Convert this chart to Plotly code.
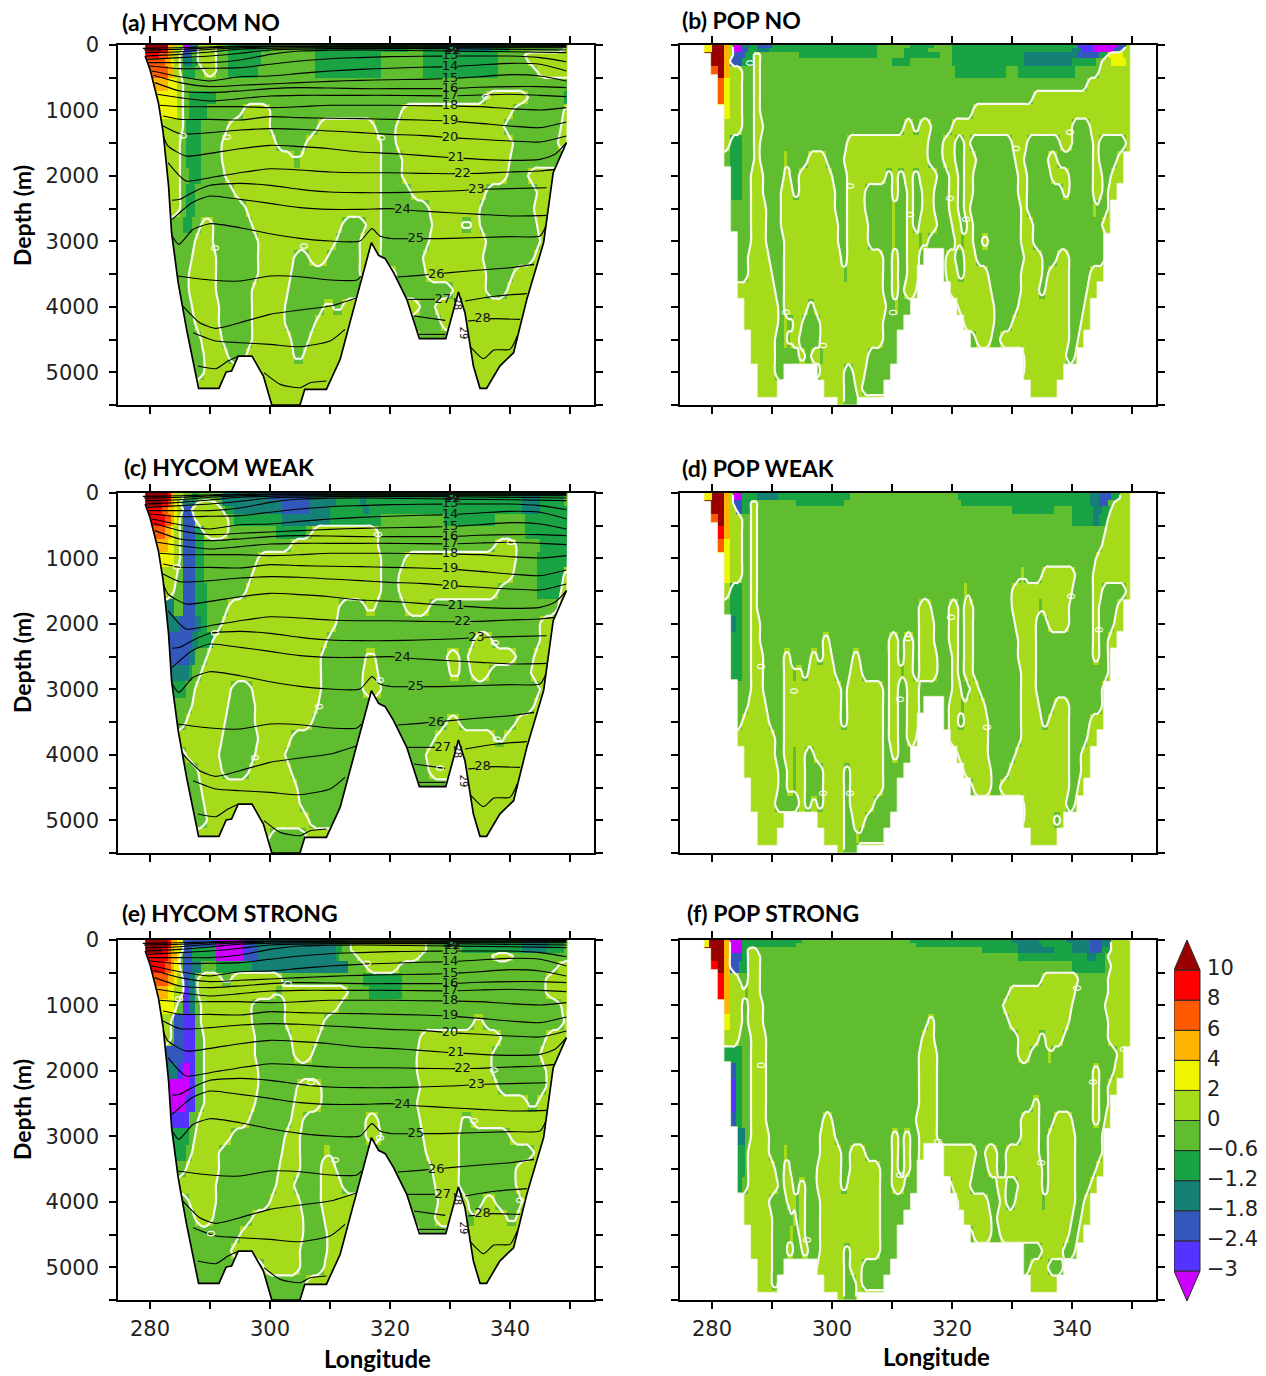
import numpy as np
import plotly.graph_objects as go

# ---------- colour classes (letter -> colour, contour-level bounds) ----------
CLASS_KEYS = list("abcdefghijkl")
CLASS_COLORS = ["#cc00ff", "#5533ff", "#3358bb", "#158075", "#1aa344", "#60bd30",
                "#a6db1c", "#eef500", "#ffb400", "#ff5a00", "#ff0000", "#990000"]
CBAR_LABELS = ["\u22123", "\u22122.4", "\u22121.8", "\u22121.2", "\u22120.6", "0", "2", "4", "6", "8", "10"]

# ---------- grid ----------
DEPTHS = [25, 75, 150, 250, 400, 600, 800, 1000, 1250, 1500, 1750, 2000, 2250, 2500, 2750,
          3000, 3250, 3500, 3750, 4000, 4250, 4500, 4750, 5000, 5250, 5450]
X_TICKS = [280, 290, 300, 310, 320, 330, 340, 350]
Y_TICKS = [0, 500, 1000, 1500, 2000, 2500, 3000, 3500, 4000, 4500, 5000, 5500]

# Each row = one depth level: runs of "<class><start longitude>"
HYCOM_NO = [
 "l278 i283 g284 a285.3 c286.5 d287 g288 f291 e293 f300 e307.5 f323 e325.3 d331 e337 f340 g349",
 "l278 k282 i283 g284 b285.3 c286.5 d287.3 g288 f291 e293 f300 e307.5 f323 e325.3 d331 e337 f340 g349",
 "k279.5 j281.5 i283 g284 f285.2 c285.4 d286.5 f287.2 g288 f291.2 e293 f298.5 e307.5 f318.6 e325.3 f338 g342.7",
 "j280 i282.5 h283.5 g284 f285.2 d285.5 e287 g288 f291 e293 f298.5 e307.5 f318.6 e325.3 f338 g343",
 "j280.5 i282.8 g284 f285 e285.5 f287.5 g289 f291 e293 f297.8 e307.5 f318.6 e325.3 f338 g344.5",
 "i281.5 h283 g284.5 f285.6",
 "h282 g284.5 f285.6 e286.5 f291 g336 f343 e349",
 "h282.5 g284.5 f285.6 e286.5 f289.7 g295.3 f300 g322 f340.3 g349",
 "g282 f285.6 e286 f288.5 g293 f300 g307.8 f317.7 g320.8 f338.9 g348.7",
 "g282.5 f285.2 e286 f288.5 g292.2 f301 g306 f318.6 g321 f340.3 g348.2",
 "g282.8 f285.2 e286 f288.5 g292.2 f304 g305 f318.6 g322 f340",
 "g283 f285.2 e286.5 f288.5 g292.5 f318.6 g322 f339.5 g343",
 "g283.5 f285 e286.2 f287.5 g294.2 f318.6 g323.3 f336 g344.5",
 "g284 f284.8 e286.2 f287.5 g295.8 f318.6 g326.6 f335 g344.2",
 "f283.5 e285.5 f287 g288.3 f290.5 g297.2 f312 g315.9 f318.6 g327 f332.2 g333.5 f335 g344.5",
 "f283.7 g287.5 f290.7 g297.8 f310.8 g315 f318.6 g326.5 f336 g345",
 "f284 g287.2 f290.8 g297.8 f304.2 g306.5 f309.4 g315 f318.6 g325.6 f335.6 g344",
 "f284.5 g286.5 f291 g297.8 f303.6 g315 f321 g325.8 f335.9 g340.5",
 "f285 g286.7 f291 g297.2 f303 g330.5 f335.8 g339.5",
 "f285.5 g287 f291.3 g297 f302.5 g309 f310.5 g312 f325 g327.5",
 "f286 g287.5 f291.3 g297 f302.5 g307.5 f320 g328.5",
 "f287 g288.5 f292 g296.8 f303.3 g306.7 f325 g333",
 "f288 g289 f293 g296 f304 g305.5",
 "f288 g289",
 "g288",
 "g288",
]
HYCOM_WEAK = [
 "l279 k282.8 i283.5 g284 f285.3 e287 f288 d292 c300 d306.4 e311 d315 e316 d342.2 e345 f349",
 "l279 k282.8 i283.5 g284 f285.3 e287 f288 d292 c300 d306.4 e311 d315 e316 d342.2 e345 f349",
 "l279.5 k282 j283 i283.5 h284 g284.3 f285.2 d285.6 f287.5 g287.8 f291 d292 c301.8 d306.4 e311 d315 e316 d342.2 e345 f349",
 "k280 j282 i283 h284 g284.6 f285.4 c285.6 e287 g287 f292 e292.5 d294 c302 d306.4 e310 d315.5 e316.5 d342 e345",
 "k281 j282.5 i283.3 h284 g284.6 f285.2 c285.6 f287.3 g287.7 f292.8 e294 d302 e310 f318.6 e329 f337.5 e342.5",
 "j281 i282.5 h283.5 g284 f285 c285.4 e287.3 g289 f292.8 e301 f306 g307.2 f317.8 e342.5",
 "i282 h283 g284 f284.8 c285.4 e287.3 f288.8 g303.3 f318 g337.5 f340.8 e345",
 "h282 g284 f284.8 c285.4 e287.3 f288.8 g298 f318.6 g322.5 f340.8 e344.5",
 "g282 f284.5 c285.4 e287.3 f288.8 g297 f318.6 g321.4 f340.3 e344.5 g349",
 "g282 f283.8 c285.4 e287.5 f289.7 g296 f318.6 g321.4 f338.2 e344.5 g348.5",
 "d283 f284 c285.5 e287.5 f289.7 g293 f311.5 g316 f317.5 g322.3 f326.7 g348",
 "d283 c285 d287.3 e288.3 f289.7 g292 f310.8 g345",
 "c283.5 d287 e288 g290.3 f309.6 g333.9 f337.2 g345",
 "c283.7 d286.5 f287.5 g289.4 f308.3 g316.2 f317.6 g329.5 f331.5 g332.8 f340.8 g343.8",
 "d283.7 e286.3 f287.2 g288.4 f308.3 g315.5 f318.2 g329.8 f331.5 g333.5 f336.5 g343.7",
 "e284.5 f286 g287.5 f293.7 g297 f308.3 g315.3 f318.6 g345",
 "f284.5 g286.8 f293 g297.5 f308 g344",
 "f285 g286 f292.5 g297.5 f307 g329.5 f331.7 g340.8",
 "g285.5 f292 g297.8 f303.5 g327.5 f337.5 g339",
 "f285 g286 f291.7 g297.7 f302.5 g326",
 "f286 g288 f292 g296.7 f303.3 g326.7",
 "f287 g288.3 f304.5 g333",
 "f288 g288.9 f305 g333",
 "f288 g289.5 f306.5 g333",
 "g288 f300 g306",
 "f288",
]
HYCOM_STRONG = [
 "h278.7 l279 k282.8 i283.5 h284.5 c285.3 a290.9 b295.3 c296 d297.5 e311 f312 g313.5 f326 e329 d342.2 e346.5 f349",
 "l279 k282.8 i283.5 h284.5 c285.3 a290.9 b295.3 c296 d297.5 e311 f312 g313.5 f326 e329 d342.2 e346.5 f349",
 "l279.5 k282 j282.8 i283.5 h284.2 g285 c285.5 e287 a291 b295.3 c296.3 d297.8 e311 f312 g313.7 f326 e332 d342.2 e346 f349",
 "k281 j282.8 i283.6 h284.3 f285 c285.5 e287 a291 c295.3 d297.8 e311 f311.7 g314.5 f325 g337 f340.5",
 "k281 j282.5 i283.3 h284 g284.8 f285.2 c285.5 d287 f288.3 e291 d297 f313 g316 f321.7 g348",
 "j281.5 i283 h284 g284.5 c285.4 d286.5 f287.5 g288 f292 g293.5 f302 e315.5 f322 g346",
 "i282 h283 g284 b285.3 d286.5 f287.5 g288.2 f301 g302 f313 e316.5 f322 g346",
 "h282.5 g284 f284.5 b285.3 d286.5 f287.5 g288.3 f297 g302.3 f311.5 g348.5",
 "g282 f283.5 c284.2 b285.3 f287.5 g288.5 f297 g302.5 f309 g334 f335.6 g349",
 "g282.5 f283.5 c284.2 b285.3 f287.5 g288.8 f297.3 g303.5 f307.8 g325 f338.3 g346",
 "c283 b285.3 f287.5 g289 f297.5 g304 f307 g324.5 f337 g345",
 "d283.5 b284.3 a285.3 b286.5 f287.5 g289 f297.8 g324.5 f337 g346",
 "a283.5 b286.3 f287.5 g288.8 f298 g304.5 f308.5 g325 f337.8 g346",
 "a283.7 b286 f287.5 g289 f297.5 g304 f308.3 g324.5 f343 g344.5",
 "b284 f286.5 g288 f296.4 g303.3 f305.3 g316.2 f317.8 g324.8 f332 g333.3",
 "e284 f286.3 g287.5 f293.3 g302.5 f305 g316 f318.6 g325.5 f331.5 g340",
 "e284.5 f286 g287 f291.7 g302.2 f304.8 g308.8 f310 g326.2 f331.5 g344",
 "f285 g286 f291.4 g301.7 f304.8 g308.6 f310.8 g327 f331.5 g341.1",
 "g285.5 f291 g301.2 f304.2 g308.6 f312 g327.3 f331.5 g341",
 "f285 g286.5 f291 g300 f304.8 g308.3 f323 g327.8 f333 g335.5 f337.5 g341.8",
 "f286 g287.5 f290.5 g297 f305.5 g309 f324 g327.5 f333 g334 f339.5 g341",
 "f287 g295 f305.3 g309.5 f325 g333",
 "f288 g293.5 f305 g309.5",
 "f288 g299 f305 g309",
 "f288 g306",
 "f288",
]
POP_NO = [
 "h278.7 l279.8 i281.9 g283 a283.3 d285.2 e286.5 c287.5 e290 f307.5 e313 f317 e320 b341.1 a343.3 c347.4 g349",
 "h278.7 l279.8 i281.9 g283 a283.3 c285 e285.8 d287.5 e289.5 f307.5 e312 f316 e320 d340 b341.5 a343.5 c347 g348.5",
 "l279.8 i281.9 g283 c283.3 e285.5 g287 f288 e294.5 f307.5 e312 f318 e320 d332 c341 e344.5 h346 g348.3",
 "l279.8 i281.9 c283 e285.2 g286.8 f288 e310 f313 e320 d332 e340 f344 g345 h346.7 g348.8",
 "j279.8 l280.8 i281.9 g283 f285 g287 f288 e320.5 f329 e331 f340.5 g344.6",
 "j279.8 h281.9 g283 f285 g287 f288 g342.7",
 "j279.8 h281.9 g283 f285 g287.2 f288 g333.6",
 "h281.9 g283 f285.2 g287.2 f288.2 g323.5",
 "g282 f285 g287.2 f288.6 g311.9 f313.3 g314.4 f316.5 g319.8 f339.9 g343",
 "g281.9 e283.2 f285.2 g287.2 f288 g302.5 f316 g318.5 f320.5 g321.8 f323 g330 f332.3 g338 f340 g343.3 f344.4 g349",
 "f281.9 e283.2 f285.2 g286.8 f288 g292 f292.5 g296 f299 g302 f316 g318.3 f320.5 g322 f324 g330.3 f332 g336 f337.6 g343.3 f344.5 g347.5",
 "f282 e283 f285.2 g286.3 f288.3 g291.9 f293.1 g294.4 f300.2 g302.7 f308.8 g310.2 f310.8 g312.2 f313.3 g314.6 f317.4 g319.4 f320.9 g322.2 f323.3 g330.8 f332.3 g336.3 f339.4 g343.3 f345 g346.6",
 "e283 f285.2 g286.3 f288.6 g291.6 f293.3 g294.4 f300.5 g302.7 f305.5 g310 f310.9 g312.5 f313.3 g314.9 f317.2 g319.5 f320.8 g322.2 f323.3 g331 f332.4 g338.3 f339.4 g343.3 f345.2 g346",
 "f283 g286.3 f288.8 g291.6 f300.5 g302.7 f305.5 g310 f310.5 g312.5 f313.3 g314.9 f317.2 g319.5 f320.9 g322.2 f323 g331.3 f332.7 g343.3 f344.2 g346.2",
 "f284 g286.3 f289 g291.7 f301 g302.7 f305.8 g310 f310.7 g312.4 f313.5 g314.4 f317.5 g320 f321.6 g322.4 f323.3 g331.6 f333.3 g345",
 "f285 g286.3 f289.2 g291.8 f301.2 g302.7 f305.8 g310 f310.7 g312.4 f314.4 g315 f316 g320.5 f321.3 g322 f323.6 g325 f326 g331.6 f333.3 g345.8",
 "f285 g286.2 f289.6 g291.8 f301.5 g302.3 f308.3 g310 f310.8 g312.6 f314.4 g319 f320.7 g321.8 f324 g332.2 f334.8 g337.5 f339.4 g345.5",
 "f285 g286.2 f290 g291.9 f302 g302.5 f308.5 g310 f310.8 g312.5 f314.4 g319 f320.8 g321.8 f326.2 g331.7 f334.8 g335.9 f339.4 g343",
 "g284.4 f290.6 g292 f308.6 g310 f310.8 g312.1 f314 g319.5 f326.5 g331.5 f334.7 g335.4 f339.4 g342.5",
 "g285 f290.8 g292 f295.8 g296.8 f308.8 g310.3 f311 g321 f326.9 g330.8 f339.4 g342",
 "g286 f291 g292 f292.7 g293.5 f295 g298 f308.5 g322 f326.9 g330 f339.5 g341.5",
 "g287 f290.7 g292 f292.6 g293.2 f294.4 g298 f308.6 g324 f326.6 g328 f339.5 g341",
 "g287 f290.5 g294.5 f295.5 g296.5 f297.8 g298.5 f306 g332 f338.8 g340.5",
 "g288 f290.5 g298 f302.2 g303.5 f305.5 g332",
 "g288 f302.2 g303.9 f305.2 g330",
 "g300 f302 g304.5",
]
POP_WEAK = [
 "h278.7 l279.8 i281.9 g283 a283.3 e285.2 d287.5 e291 f303 e320.8 d343 c344.4 e346.7 g348",
 "h278.7 l279.8 i281.9 g283 a283.3 e285.2 d287.5 e291 f303 e320.8 d343 c344.4 e346.7 g348",
 "l279.8 i281.9 g283 c283.5 e285.2 g286.3 f287.6 e294 f302 e321.5 d343 c344.4 f346 g346.8",
 "l279.8 i281.9 g283 f283.8 c284 e285.2 g286.3 f287.6 e330 f337 e340 d343.5 e345 g346.4",
 "j279.8 l281 i281.9 g283 f284.8 g286.3 f287.6 e340 d343.7 e344.5 g345.8",
 "j279.8 k281 i281.9 g283 f285 g286.3 f287.6 g345.6",
 "j279.8 h281.9 g283 f285.2 g286.3 f287.6 g345",
 "h281.9 g283 f285.2 g286.3 f287.6 g344",
 "h281.9 g283 f285 g286.3 f287.5 g331.4 f331.8 g334.8 f340.3 g343.6",
 "g281.9 e283 f285.2 g286.3 f287.6 g321.8 f322.5 g330 f340.2 g343.5 f345 g349",
 "f281.9 e283 f285.2 g286.3 f287.7 g314.7 f316.3 g319.7 f320.8 g322.2 f323.4 g329.9 f334.3 g335 f339.4 g343.4 f344.4 g347.6",
 "d283 e284 f285.2 g286.3 f288 g314.7 f316.8 g319.7 f320.8 g322.2 f323.4 g330.5 f333.8 g335.9 f339.4 g343.4 f344.7 g346.9",
 "e283 f285.2 g286.3 f288 g298.6 f299.7 g309.7 f310.8 g312.2 f313.3 g314.4 f316.9 g319.7 f320.8 g322.2 f323.3 g330.8 f334 g343.3 f344.4 g346",
 "e283 f285.2 g286.3 f288.3 g292.2 f293.1 g296.6 f297.7 g298.6 f300.2 g303.3 f304.4 g309.7 f310.8 g311.9 f313.3 g314.4 f317.7 g319.9 f320.8 g322.2 f323.3 g330.8 f333.8 g343.3 f344.4 g345.8",
 "e283.3 f285.2 g286.3 f288.3 g292.2 f293.6 g294.2 f295.2 g296.2 f300.7 g302.9 f304.9 g309.7 f311.6 g312.2 f313.7 g314.4 f317.4 g320 f320.9 g322.2 f323.5 g331.5 f334 g345.9",
 "f284 g286.3 f288.5 g292.1 f301.3 g302.7 f308.3 g309.7 f311.2 g312.5 f314.3 g320 f321.3 g322.9 f324.6 g331.5 f334 g345",
 "f284 g285.8 f288.8 g292.1 f301.6 g302.4 f308.3 g309.7 f311.2 g312.5 f314.3 g319.7 f321.3 g322.2 f325.5 g331.5 f334.4 g337 f339.6 g345",
 "f284 g285 f289.7 g292.1 f301.6 g302.7 f308.3 g309.7 f311.2 g312.5 f314.3 g319.3 f321 g322 f325.8 g331.6 f334.8 g336 f339.6 g343",
 "g284 f290.5 g292.1 f308.3 g309.7 f311 g312.6 f314 g319.5 f326 g331.5 f339.6 g342.4",
 "g284.8 f290.5 g292 f293.3 g294 f295.6 g296.8 f308.3 g310 f310.8 g321 f326.1 g330.5 f339.6 g341.6",
 "g286 f290.8 g292.4 f293.3 g294 f295.4 g298.3 f302 g303 f308.3 g322 f326.4 g329.5 f339.5 g341.4",
 "g287 f290.8 g292.4 f293.4 g294 f295.4 g298.3 f302 g303 f308.3 g323.5 f326.6 g327.9 f339.6 g341",
 "g287 f290.5 g294.4 f295.4 g296.6 f297.7 g298.6 f302 g303 f306.9 g332 f338.8 g340.4",
 "g288 f302 g303.5 f305.5 g332 f336.8 g338",
 "g288 f302 g304 f304.6 g330",
 "g300 f302.2 g304.5",
]
POP_STRONG = [
 "h278.7 l279.7 i281.9 g283 a283.2 e285 f295.2 e313 d330 e334.5 d339 c343 d345.2 g346.5",
 "h278.7 l279.7 i281.9 g283 a283.2 e285 f294 e314 d331 e335 d340 c343 d345 g346.5",
 "l279.7 i281.9 g283 a283.2 e285 g286 f287.7 e325 d331 e337 d340 c343 e345 g346.3",
 "l279.7 i281.9 c283 e285 g286 f287.9 e331 d342.5 e344 f345.5 g346.2",
 "k280.2 l281 i281.9 c283 e284.5 g286 f287.9 e340 f345.5 g346.4",
 "k280.9 i281.9 g283 f284.6 g286 f288 g334.9 f340.8 g346",
 "k280.9 i281.9 g283 f285.3 g286 f288.1 g329.6 f340.6 g346",
 "i281.9 g283 f285.2 g286 f288.3 g328.6 f340.2 g345.7",
 "h281.9 g283 f285 g286.2 f288.5 g315.8 f316.8 g329.7 f339.5 g346",
 "g281.9 f284.4 g286.3 f288.8 g314.9 f317.1 g331.1 f334.3 g335.5 f338.4 g346.1",
 "e281.9 f285 g286.4 f289 g314.7 f317.4 g331.1 f333 g335.8 f336.5 g347.7",
 "c283 e284 f285 g286.4 f289 g314.6 f317.4 g343.5 f344.4 g347.2",
 "b283 e284.2 f285 g286.4 f289 g314.5 f317.5 g343.5 f344.5 g346",
 "b283 e284.2 f285 g286.4 f289 g314.3 f317.5 g333.6 f334.3 g343.4 f344.5 g345.8",
 "c283.3 e284 f285 g286.4 f289 g298.4 f300 g314.2 f317.5 g331.4 f334.3 g336.8 f340 g343.4 f344.5 g345.6",
 "d284.5 f285.5 g286.3 f289.5 g298 f300.5 g309.8 f311.1 g311.9 f313.1 g314.3 f317.3 g331.4 f334.7 g335.8 f340.3 g345",
 "e284.7 f285.5 g286.2 f289.7 g292 f292.7 g298 f301.3 g302.8 f305.4 g309.8 f311.1 g311.9 f313.1 g314.3 f324 g325.7 f327.7 g328.9 f331.4 g331.41 f334.7 g335.8 f340.4 g344.8",
 "e284.7 f285.3 g286 f290.5 g292 f293 g297.5 f301.3 g302.8 f308.2 g309.8 f311.1 g312 f313 g314.5 f323.5 g326 f327.7 g329 f331.3 g331.31 f334.8 g335.8 f340.5 g343.8",
 "e284.3 f285 g286 f290.8 g292.1 f293.6 g294.3 f295.5 g297.4 f301.5 g302.7 f308.2 g310 f311.9 g320 f322.8 g327.6 f328.9 g331 f334.9 g335.8 f340.5 g342.8",
 "g284.8 f289.5 g292.7 f294 g294.3 f295.5 g298 f308.2 g320.9 f326 g327.9 f329.2 g330.4 f334.9 g335.5 f340.4 g341.9",
 "g285 f290 g293.4 f293.9 g294.3 f295.6 g298 f308.2 g321 f326.3 g327.7 f340 g341.3",
 "g286 f290.2 g293.2 f293.7 g294.3 f295.7 g297.8 f308.2 g323.3 f326.4 g327.8 f339.6 g341",
 "g287 f290 g292.7 f293.7 g294.9 f296 g298.2 f302.2 g302.8 f308.2 g335 f338.6 g340.7",
 "g288 f290 g297.5 f302 g303 f305 g333 f336 g338.5",
 "g288 f289.8 g291 f302 g303.8 f305 g330",
 "g300 f302.2 g304.2",
]

# ---------- HYCOM bathymetry (longitude / depth along the bottom) ----------
HYCOM_BOTTOM_LON = [279.2, 280, 281.4, 282.2, 283.1, 283.6, 284.7, 286.1, 288.1, 291.5, 292.7, 293.6,
                    294.7, 297, 298.9, 300.3, 305, 305.8, 309.4, 311.7, 313.1, 314.7, 316.1, 316.9,
                    318.1, 319.2, 320.6, 322.8, 324.9, 329.3, 331.4, 332.5, 333.9, 335, 336.1, 338.3,
                    340.6, 342.8, 345.6, 347.2, 349.4]
HYCOM_BOTTOM_DEPTH = [168, 372, 881, 1339, 2154, 2868, 3632, 4345, 5245, 5245, 4996, 4982, 4753, 4753,
                      5059, 5500, 5500, 5260, 5260, 4802, 4318, 3784, 3320, 3020, 3213, 3264, 3478,
                      3886, 4487, 4487, 3774, 4090, 4905, 5245, 5245, 4905, 4701, 3886, 3020, 1951, 1492]

# ---------- POP bathymetry: depth of each 1.11-degree column ----------
POP_COLUMN_START = 278.67
POP_COLUMN_WIDTH = 1.11
POP_BOTTOM = [127, 453, 917, 1859, 2852, 3871, 4354, 4874, 5383, 5383, 5383, 5118, 4874, 4874, 4874, 4874,
              4874, 5118, 5383, 5383, 5500, 5500, 5500, 5383, 5383, 5383, 5383, 5118, 4874, 4354, 4125,
              3871, 3361, 3107, 3107, 3107, 3616, 3871, 4125, 4354, 4624, 4624, 4624, 4624, 4624, 4624,
              4624, 4624, 5118, 5383, 5383, 5383, 5383, 5118, 4874, 4874, 4624, 4354, 3871, 3616, 2877,
              2368, 2113, 1630]

# ---------- isotherms shared by the HYCOM panels (None = break) ----------
ISO_LON = {
 7:  [278.8, 285, 295, 349.4],
 8:  [279, 285, 295, 349.4],
 9:  [279.2, 285, 290, 300, 349.4],
 10: [279.4, 285, 290, 295, 305, 349.4],
 11: [279.6, 285, 290, 295, 300, 310, 330, 349.4],
 12: [279.8, 285, 290, 295, 300, 305, 310, 315, 330, 340, 349.4],
 13: [280, 285, 290, 295, 300, 305, 310, 315, 320, 325, 330, 335, 340, 345, 349.4],
 14: [280.3, 285, 290, 295, 300, 305, 310, 315, 320, 325, 330, 335, 340, 345, 349.4],
 15: [280.6, 285, 290, 295, 300, 305, 310, 315, 320, 325, 330, 335, 340, 345, 349.4],
 16: [280.8, 285, 290, 295, 300, 305, 310, 315, 320, 325, 330, 335, 340, 345, 349.4],
 17: [281.2, 285, 290, 295, 300, 305, 310, 315, 320, 325, 330, 335, 340, 345, 349.4],
 18: [281.6, 285, 290, 295, 300, 305, 310, 315, 320, 325, 330, 335, 340, 345, 349.4],
 19: [282.2, 285, 290, 295, 300, 305, 310, 315, 320, 325, 330, 335, 340, 345, 349.4],
 20: [282.2, 285, 290, 295, 300, 305, 310, 315, 320, 325, 330, 335, 340, 345, 349.4],
 21: [282.2, 283, 286, 290, 295, 300, 305, 310, 315, 320, 325, 330, 335, 340, 345, 347.5, 349.4],
 22: [283, 286, 290, 295, 300, 305, 310, 315, 320, 325, 330, 335, 340, 345, 347.5],
 23: [283.7, 285, 287, 290, 295, 300, 305, 310, 315, 320, 325, 330, 335, 340, 346.1],
 24: [283.7, 287, 290, 295, 300, 305, 310, 315, 320, 325, 330, 335, 340, 346.1],
 25: [283.7, 284.8, 287.2, 290, 295, 300, 305, 310, 315, 317, 318.3, 320.5, 325, 330, 340, 345, 345.9],
 26: [284.5, 290, 295, 300, 305, 310, 314.5, 315.2, None, 321.3, 325, 330, 335, 340, 344],
 27: [285.5, 288.3, 291, 295, 300, 305, 310, 314.5, None, 322.9, 327.5, None, 332.5, 337.8, 342.8],
 28: [287.2, 291, 295, 300, 305, 310, 312.5, None, 324, 329.2, None, 333, 337, 341.7],
 29: [288, 291, 293, 294.5, None, 299, 301.7, 305, 306.7, 309.4, None, 324.8, 329.2, None, 333.3, 335.6, 337.3, 340, 341.2],
}
ISO_DEPTH = {
 7:  [51, 41, 15, 10],
 8:  [76, 66, 25, 20],
 9:  [117, 102, 66, 31, 31],
 10: [168, 143, 107, 66, 41, 41],
 11: [219, 193, 168, 127, 76, 56, 56, 76],
 12: [270, 270, 270, 229, 143, 92, 81, 76, 92, 102, 117],
 13: [320, 361, 356, 346, 295, 244, 209, 193, 178, 173, 168, 168, 168, 193, 255],
 14: [397, 484, 550, 484, 473, 433, 397, 372, 356, 341, 331, 305, 280, 295, 397],
 15: [463, 575, 636, 616, 596, 575, 555, 540, 530, 525, 514, 484, 453, 473, 550],
 16: [575, 702, 728, 702, 667, 651, 657, 667, 667, 667, 667, 646, 636, 636, 651],
 17: [753, 804, 855, 820, 779, 769, 769, 769, 769, 774, 779, 764, 753, 769, 789],
 18: [921, 942, 942, 942, 957, 942, 921, 921, 921, 927, 932, 942, 973, 993, 957],
 19: [1085, 1136, 1136, 1146, 1095, 1110, 1120, 1125, 1136, 1146, 1161, 1197, 1238, 1263, 1176],
 20: [1238, 1355, 1339, 1299, 1278, 1288, 1314, 1339, 1365, 1380, 1416, 1441, 1467, 1482, 1390],
 21: [1390, 1543, 1696, 1655, 1584, 1533, 1553, 1584, 1635, 1655, 1686, 1721, 1747, 1762, 1747, 1670, 1492],
 22: [1798, 2078, 2027, 1951, 1890, 1910, 1940, 1951, 1951, 1961, 1966, 1961, 1940, 1925, 1900],
 23: [2373, 2358, 2256, 2144, 2114, 2144, 2205, 2246, 2256, 2256, 2246, 2231, 2205, 2195, 2180],
 24: [2664, 2409, 2307, 2358, 2419, 2485, 2511, 2511, 2500, 2536, 2562, 2587, 2613, 2603],
 25: [2918, 3046, 2816, 2730, 2791, 2883, 2954, 2995, 2995, 2806, 2918, 2959, 2959, 2954, 2928, 2918, 2780],
 26: [3530, 3590, 3606, 3530, 3540, 3590, 3590, 3530, None, 3545, 3519, 3478, 3438, 3402, 3351],
 27: [3988, 4242, 4329, 4242, 4115, 4049, 3988, 3860, None, 3886, 3886, None, 3911, 3835, 3799],
 28: [4395, 4523, 4548, 4574, 4609, 4523, 4344, None, 4140, 4207, None, 4217, 4181, 4192],
 29: [4905, 4945, 4828, 4762, None, 5006, 5185, 5236, 5160, 5134, None, 4421, 4421, None, 4599, 4792, 4660, 4650, 4446],
}
# labels on the isotherms
ISO_LABEL_TEXT = ["9", "10", "11", "12", "13", "14", "15", "16", "17", "18", "19", "20", "21", "22", "23", "24", "25", "26", "27", "28"]
ISO_LABEL_LON = [330.3, 330.4, 330.5, 330.4, 330, 330, 330, 330, 330, 330, 330, 330, 331, 332.1, 334.4, 322.1, 324.3, 327.7, 328.8, 335.4]
ISO_LABEL_DEPTH = [20, 40, 60, 85, 168, 331, 514, 667, 779, 932, 1161, 1416, 1721, 1966, 2205, 2510, 2954, 3504, 3886, 4181]

# ---------- "0" labels on the white zero contour ----------
ZERO_LABELS = {
 "a": ([285.3, 292.7, 318.5, 290.8, 305.5, 335.8], [1390, 1400, 1425, 3105, 3080, 790]),
 "b": ([286.2, 302.9, 319.6, 322.2, 312.9, 330.5, 339.6, 292.3, 310.1, 298.4],
       [270, 2153, 2341, 2657, 2586, 1588, 1334, 4087, 4087, 4591]),
 "c": ([284.4, 290.8, 317.9, 340.1, 337.5, 318.3, 308.2, 297.5, 328.1, 337.8],
       [1130, 2144, 631, 753, 2281, 2861, 3258, 4049, 4201, 3768]),
 "d": ([288.1, 293.6, 311.3, 312.7, 319.8, 325.8, 339.8, 344.5, 298.4, 302.9],
       [2652, 3028, 3156, 2219, 1904, 3584, 1583, 2082, 4585, 4585]),
 "e": ([284.6, 303, 316.1, 306.8, 318.2, 310.6, 337.1, 333.8, 290.1, 341.6],
       [901, 677, 356, 2180, 3015, 3361, 1986, 2765, 4487, 3977]),
 "f": ([288.2, 311.3, 295.6, 317.6, 334.8, 340.7, 348.6, 343.5],
       [1910, 3596, 4583, 3080, 3407, 728, 1670, 2160]),
}

W, H = 1266, 1376
PANELS = [
 dict(key="a", title="(a) HYCOM NO",     rows=HYCOM_NO,     hycom=True,  box=(118, 594, 45, 405),   t=(120, 22)),
 dict(key="b", title="(b) POP NO",       rows=POP_NO,       hycom=False, box=(680, 1156, 45, 405),  t=(680, 20)),
 dict(key="c", title="(c) HYCOM WEAK",   rows=HYCOM_WEAK,   hycom=True,  box=(118, 594, 493, 853),  t=(122, 467)),
 dict(key="d", title="(d) POP WEAK",     rows=POP_WEAK,     hycom=False, box=(680, 1156, 493, 853), t=(680, 468)),
 dict(key="e", title="(e) HYCOM STRONG", rows=HYCOM_STRONG, hycom=True,  box=(118, 594, 940, 1300), t=(120, 913)),
 dict(key="f", title="(f) POP STRONG",   rows=POP_STRONG,   hycom=False, box=(680, 1156, 940, 1300), t=(685, 913)),
]

lon_grid = np.arange(278.75, 350.0, 0.5)


def decode(rows):
    assert len(rows) == len(DEPTHS), len(rows)
    grid = np.zeros((len(rows), lon_grid.size), dtype=int)
    for r, row in enumerate(rows):
        runs = [(CLASS_KEYS.index(tok[0]), float(tok[1:])) for tok in row.split()]
        for c, lon in enumerate(lon_grid):
            cls = runs[0][0]
            for k, start in runs:
                if lon >= start:
                    cls = k
            grid[r, c] = cls
    return grid


def sign_field(grid, width):
    s = np.where(grid >= CLASS_KEYS.index("g"), 1.0, -1.0)
    kernel = np.ones(width) / width
    out = np.empty_like(s)
    pad = width // 2
    for r in range(s.shape[0]):
        out[r] = np.convolve(np.pad(s[r], pad, mode="edge"), kernel, mode="valid")
    return out


def segments(lons, deps):
    segs, cur = [], []
    for a, b in zip(lons, deps):
        if a is None:
            segs.append(cur)
            cur = []
        else:
            cur.append((a, b))
    segs.append(cur)
    return segs


def isotherm_xy():
    xs, ys = [], []
    for t in ISO_LON:
        cuts = [ISO_LABEL_LON[i] for i, s in enumerate(ISO_LABEL_TEXT) if int(s) == t]
        half = 1.25 if t >= 13 else 0.5
        for seg in segments(ISO_LON[t], ISO_DEPTH[t]):
            sx = [p[0] for p in seg]
            sy = [p[1] for p in seg]
            for cut in cuts:
                if sx[0] < cut - half and cut + half < sx[-1]:
                    left = [(a, b) for a, b in zip(sx, sy) if a < cut - half]
                    right = [(a, b) for a, b in zip(sx, sy) if a > cut + half]
                    d0 = float(np.interp(cut - half, sx, sy))
                    d1 = float(np.interp(cut + half, sx, sy))
                    xs += [p[0] for p in left] + [cut - half, None, cut + half] + [p[0] for p in right]
                    ys += [p[1] for p in left] + [d0, None, d1] + [p[1] for p in right]
                    break
            else:
                xs += sx
                ys += sy
            xs.append(None)
            ys.append(None)
    return xs, ys


iso_x, iso_y = isotherm_xy()
colorscale = []
n = len(CLASS_COLORS)
for i, c in enumerate(CLASS_COLORS):
    colorscale += [[i / n, c], [(i + 1) / n, c]]

fig = go.Figure()
layout = dict(width=W, height=H, margin=dict(l=0, r=0, t=0, b=0, pad=0, autoexpand=False), paper_bgcolor="white",
              plot_bgcolor="white", showlegend=False, font=dict(family="DejaVu Sans", color="#222"))
annotations = []
TICK_FONT = dict(family="DejaVu Sans", size=21, color="#222")

for idx, p in enumerate(PANELS, start=1):
    xa, ya = f"x{idx}", f"y{idx}"
    x0, x1, y0, y1 = p["box"]
    left = x0 < 300
    bottom = y1 > 1000
    layout[f"xaxis{idx}"] = dict(
        domain=[x0 / W, x1 / W], range=[274.67, 354], anchor=ya, tickmode="array", tickvals=X_TICKS,
        ticktext=[str(v) if (bottom and v in (280, 300, 320, 340)) else "" for v in X_TICKS],
        ticks="outside", ticklen=7, tickwidth=1.5, tickcolor="black", showline=True, linewidth=1.5,
        linecolor="black", mirror="ticks", showgrid=False, zeroline=False, tickfont=TICK_FONT,
        ticklabelstandoff=2)
    layout[f"yaxis{idx}"] = dict(
        domain=[1 - y1 / H, 1 - y0 / H], range=[5500, 0], anchor=xa, tickmode="array", tickvals=Y_TICKS,
        ticktext=[str(v) if (left and v % 1000 == 0) else "" for v in Y_TICKS],
        ticks="outside", ticklen=7, tickwidth=1.5, tickcolor="black", showline=True, linewidth=1.5,
        linecolor="black", mirror="ticks", showgrid=False, zeroline=False, tickfont=TICK_FONT,
        ticklabelstandoff=6)

    grid = decode(p["rows"])
    fig.add_trace(go.Heatmap(x=lon_grid, y=DEPTHS, z=grid, zmin=-0.5, zmax=n - 0.5, colorscale=colorscale,
                             showscale=False, hoverinfo="skip", xaxis=xa, yaxis=ya))
    fig.add_trace(go.Contour(x=lon_grid, y=DEPTHS, z=sign_field(grid, 5 if p["hycom"] else 3), autocontour=False,
                             contours=dict(start=0, end=0, size=1, coloring="none"),
                             line=dict(color="#f7f9ee", width=2.2, smoothing=1.0), showscale=False,
                             hoverinfo="skip", xaxis=xa, yaxis=ya))
    # everything below the sea floor is blanked out
    if p["hycom"]:
        mx = HYCOM_BOTTOM_LON + [349.6, 354.5, 354.5, 274.5, 274.5, HYCOM_BOTTOM_LON[0]]
        my = HYCOM_BOTTOM_DEPTH + [0, 0, 5600, 5600, 0, 0]
        fig.add_trace(go.Scatter(x=mx, y=my, fill="toself", fillcolor="white", mode="lines",
                                 line=dict(width=0, color="white"), hoverinfo="skip", xaxis=xa, yaxis=ya))
    else:
        sx, sy = [POP_COLUMN_START], [0]
        for i, d in enumerate(POP_BOTTOM):
            sx += [POP_COLUMN_START + i * POP_COLUMN_WIDTH, POP_COLUMN_START + (i + 1) * POP_COLUMN_WIDTH]
            sy += [d, d]
        sx += [sx[-1], 354.5, 354.5, 274.5, 274.5, POP_COLUMN_START]
        sy += [0, 0, 5600, 5600, 0, 0]
        fig.add_trace(go.Scatter(x=sx, y=sy, fill="toself", fillcolor="white", mode="lines",
                                 line=dict(width=0.8, color="#eef3d6"), hoverinfo="skip", xaxis=xa, yaxis=ya))
    if p["hycom"]:
        fig.add_trace(go.Scatter(x=iso_x, y=iso_y, mode="lines", connectgaps=False,
                                 line=dict(color="black", width=1.1, shape="spline", smoothing=0.6),
                                 hoverinfo="skip", xaxis=xa, yaxis=ya))
        fig.add_trace(go.Scatter(x=HYCOM_BOTTOM_LON, y=HYCOM_BOTTOM_DEPTH, mode="lines",
                                 line=dict(color="black", width=1.7), hoverinfo="skip", xaxis=xa, yaxis=ya))
        fig.add_trace(go.Scatter(x=ISO_LABEL_LON, y=ISO_LABEL_DEPTH, text=ISO_LABEL_TEXT, mode="text",
                                 textposition="middle center",
                                 textfont=dict(family="DejaVu Sans", size=13, color="#111"),
                                 hoverinfo="skip", xaxis=xa, yaxis=ya))
        for txt, lo, de in (("28", 331.2, 3950), ("29", 332.4, 4400)):
            annotations.append(dict(text=txt, x=lo, y=de, xref=xa, yref=ya, showarrow=False, textangle=90,
                                    font=dict(family="DejaVu Sans", size=10, color="#111")))
    zx, zy = ZERO_LABELS[p["key"]]
    for lo, de in zip(zx, zy):
        annotations.append(dict(text="0", x=lo, y=de, xref=xa, yref=ya, showarrow=False, textangle=90,
                                font=dict(family="DejaVu Sans", size=11, color="white")))
    annotations.append(dict(text=p["title"], x=p["t"][0] / W, y=1 - p["t"][1] / H, xref="paper", yref="paper",
                            xanchor="left", yanchor="middle", showarrow=False,
                            font=dict(family="Lato", size=23, color="black", weight=700)))

for yc in (216, 663, 1110):
    annotations.append(dict(text="Depth (m)", x=22 / W, y=1 - yc / H, xref="paper", yref="paper", showarrow=False,
                            xanchor="center", yanchor="middle", textangle=-90,
                            font=dict(family="Lato", size=23, color="black", weight=700)))
for xc, yc in ((378, 1358), (936, 1356)):
    annotations.append(dict(text="Longitude", x=xc / W, y=1 - yc / H, xref="paper", yref="paper", showarrow=False,
                            xanchor="center", yanchor="middle",
                            font=dict(family="Lato", size=24, color="black", weight=700)))

# colour key with triangular ends, drawn in class units; the axis runs on to make room for the labels
cb = len(PANELS) + 1
layout[f"xaxis{cb}"] = dict(domain=[1174 / W, 1264 / W], range=[0, 90 / 26], visible=False, anchor=f"y{cb}", fixedrange=True)
layout[f"yaxis{cb}"] = dict(domain=[1 - 1301 / H, 1 - 940 / H], range=[0, n], visible=False, anchor=f"x{cb}", fixedrange=True)
for i, c in enumerate(CLASS_COLORS):
    if i == 0:
        px, py = [0, 1, 0.5, 0], [1, 1, 0, 1]
    elif i == n - 1:
        px, py = [0, 1, 0.5, 0], [n - 1, n - 1, n, n - 1]
    else:
        px, py = [0, 1, 1, 0, 0], [i, i, i + 1, i + 1, i]
    fig.add_trace(go.Scatter(x=px, y=py, fill="toself", fillcolor=c, mode="lines",
                             line=dict(color="#2a2a2a", width=1), hoverinfo="skip",
                             xaxis=f"x{cb}", yaxis=f"y{cb}"))
fig.add_trace(go.Scatter(x=[1.27] * len(CBAR_LABELS), y=list(range(1, len(CBAR_LABELS) + 1)), text=CBAR_LABELS,
                         mode="text", textposition="middle right",
                         textfont=dict(family="DejaVu Sans", size=21, color="#222"), hoverinfo="skip",
                         xaxis=f"x{cb}", yaxis=f"y{cb}"))

layout["annotations"] = annotations
fig.update_layout(**layout)
fig.write_html("out.html", config={"displayModeBar": False},
               post_script="document.body.style.margin='0';document.body.style.overflow='hidden';")
